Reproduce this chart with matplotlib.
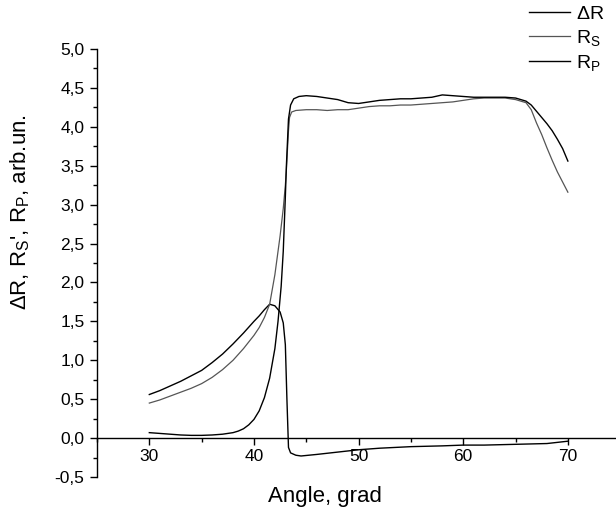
import matplotlib
matplotlib.use("Agg")
import matplotlib.pyplot as plt
from matplotlib.ticker import MultipleLocator, FuncFormatter

plt.rcParams['font.family'] = ['Liberation Sans', 'DejaVu Sans']
plt.rcParams['mathtext.fontset'] = 'custom'
plt.rcParams['mathtext.rm'] = 'Liberation Sans'
plt.rcParams['mathtext.it'] = 'Liberation Sans'

# Delta R
dr_x = [30, 31, 32, 33, 34, 35, 36, 37, 38, 39, 40, 40.5, 41, 41.5, 42, 42.5,
        42.8, 43.0, 43.15, 43.3, 43.5, 44.0, 44.5, 46, 48, 50, 52, 55, 58, 60,
        62, 65, 68, 70]
dr_y = [0.56, 0.61, 0.67, 0.73, 0.80, 0.87, 0.97, 1.08, 1.21, 1.35, 1.50, 1.57,
        1.65, 1.72, 1.70, 1.62, 1.48, 1.20, 0.50, -0.12, -0.19, -0.22, -0.23,
        -0.21, -0.18, -0.15, -0.13, -0.11, -0.10, -0.09, -0.09, -0.08, -0.07,
        -0.04]

# R_S
rs_x = [30, 31, 32, 33, 34, 35, 36, 37, 38, 39, 40, 40.5, 41, 41.5, 42, 42.5,
        42.8, 43.0, 43.1, 43.2, 43.3, 43.4, 43.6, 44, 45, 46, 47, 48, 49, 50,
        51, 52, 53, 54, 55, 56, 57, 58, 59, 60, 61, 62, 63, 64, 65, 66, 66.5,
        67, 67.5, 68, 68.5, 69, 69.5, 70]
rs_y = [0.45, 0.49, 0.54, 0.59, 0.64, 0.70, 0.78, 0.88, 1.00, 1.15, 1.32, 1.42,
        1.55, 1.72, 2.10, 2.60, 2.95, 3.25, 3.45, 3.70, 3.95, 4.12, 4.19, 4.21,
        4.22, 4.22, 4.21, 4.22, 4.22, 4.24, 4.26, 4.27, 4.27, 4.28, 4.28, 4.29,
        4.30, 4.31, 4.32, 4.34, 4.36, 4.37, 4.37, 4.37, 4.35, 4.31, 4.22, 4.05,
        3.90, 3.73, 3.57, 3.42, 3.29, 3.16]

# R_P
rp_x = [30, 31, 32, 33, 34, 35, 36, 37, 38, 38.5, 39, 39.5, 40, 40.5, 41, 41.5,
        42, 42.3, 42.6, 42.8, 43.0, 43.1, 43.2, 43.3, 43.5, 43.8, 44.3, 45, 46,
        47, 48, 48.5, 49, 50, 51, 52, 53, 54, 55, 56, 57, 58, 59, 60, 61, 62,
        63, 64, 65, 66, 66.5, 67, 67.5, 68, 68.5, 69, 69.5, 70]
rp_y = [0.07, 0.06, 0.05, 0.04, 0.035, 0.035, 0.04, 0.05, 0.07, 0.09, 0.12,
        0.17, 0.24, 0.35, 0.52, 0.77, 1.15, 1.50, 1.95, 2.40, 3.10, 3.50, 3.80,
        4.10, 4.28, 4.36, 4.39, 4.40, 4.39, 4.37, 4.35, 4.33, 4.31, 4.30, 4.32,
        4.34, 4.35, 4.36, 4.36, 4.37, 4.38, 4.41, 4.40, 4.39, 4.38, 4.38, 4.38,
        4.38, 4.37, 4.33, 4.28, 4.20, 4.12, 4.04, 3.95, 3.84, 3.72, 3.56]

x_ticks = [30, 40, 50, 60, 70]
y_ticks = [-0.5, 0.0, 0.5, 1.0, 1.5, 2.0, 2.5, 3.0, 3.5, 4.0, 4.5, 5.0]

fig = plt.figure(figsize=(6.16, 5.09), dpi=100)
ax = fig.add_axes([97 / 616, 32 / 509, 1 - 97 / 616, (477 - 49) / 509])

ax.plot(dr_x, dr_y, color='black', lw=1.0, label=r'$\Delta$R')
ax.plot(rs_x, rs_y, color='#555555', lw=0.9, label=r'R$_\mathregular{S}$')
ax.plot(rp_x, rp_y, color='black', lw=1.0, label=r'R$_\mathregular{P}$')

ax.set_xlim(25, 74.6)
ax.set_ylim(-0.5, 5.0)
ax.spines['top'].set_visible(False)
ax.spines['right'].set_visible(False)
ax.spines['bottom'].set_position(('data', 0))
ax.spines['left'].set_linewidth(1.0)
ax.spines['bottom'].set_linewidth(1.0)

ax.set_xticks(x_ticks)
ax.xaxis.set_minor_locator(MultipleLocator(5))
ax.set_yticks(y_ticks)
ax.yaxis.set_minor_locator(MultipleLocator(0.25))
ax.yaxis.set_major_formatter(FuncFormatter(lambda v, p: f"{v:.1f}".replace('.', ',')))
ax.tick_params(axis='both', which='major', direction='out', length=5, width=1.0,
               labelsize=12.5)
ax.tick_params(axis='both', which='minor', direction='out', length=3, width=1.0)
ax.tick_params(axis='y', pad=4)
ax.tick_params(axis='x', pad=3)

ax.set_xlabel('Angle, grad', fontsize=16)
ax.xaxis.set_label_coords(0.439, -0.021)
ax.set_ylabel(r"$\Delta$R, R$_\mathregular{S}$', R$_\mathregular{P}$, arb.un.", fontsize=16)
ax.yaxis.set_label_coords(-0.125, 0.62)

leg = fig.legend(loc='upper right', bbox_to_anchor=(1.0, 1.012), frameon=False,
                 fontsize=14, handlelength=2.1, handletextpad=0.3,
                 labelspacing=0.25, borderaxespad=0.2)

fig.savefig('out.png', dpi=100)
